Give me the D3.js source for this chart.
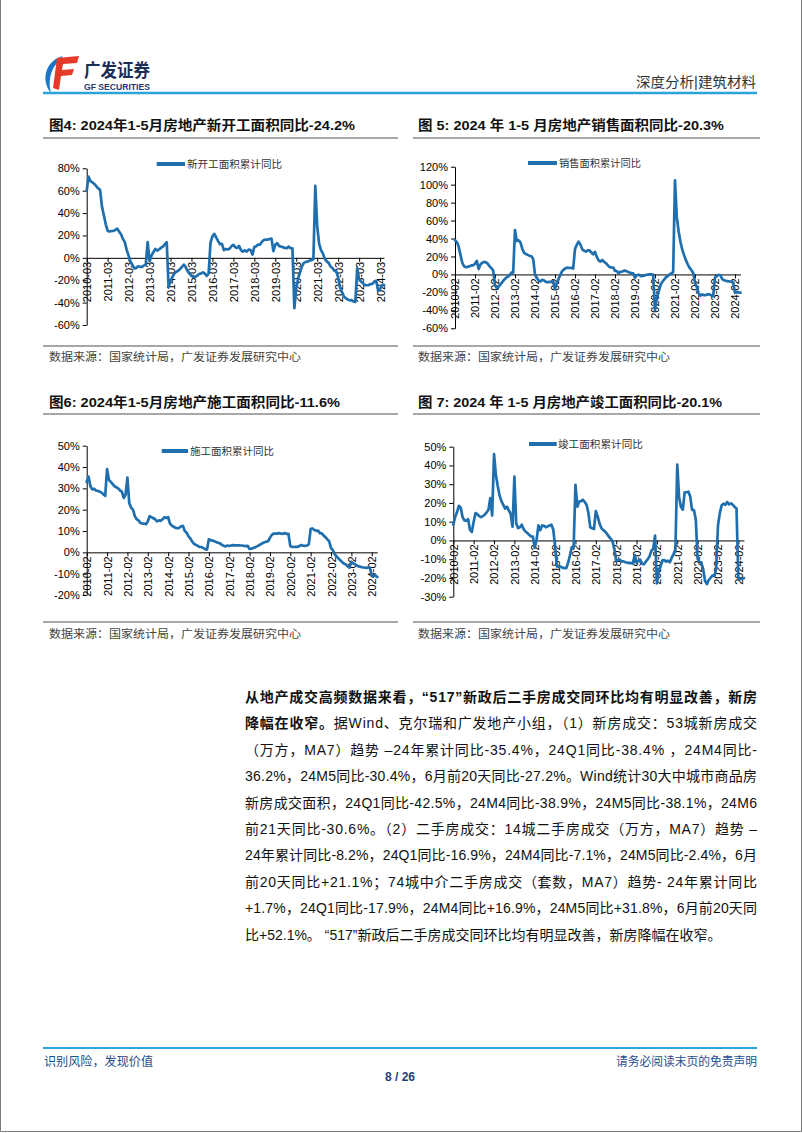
<!DOCTYPE html>
<html><head><meta charset="utf-8">
<script src="https://cdn.jsdelivr.net/npm/d3@7"></script>
<style>html,body{margin:0;padding:0;background:#fff}svg{display:block}</style>
</head><body>
<svg id="page" width="802" height="1133"></svg>
<script>
// ---------------- DATA ----------------
// 图4 新开工面积累计同比 (%), monthly (Feb–Dec), from 2010-03 to 2024-05
const newStartYoY = [
  60, 72.5, 68.5, 67.5, 66, 64, 62, 61, 46, 38,                 // 2010 Mar-Dec
  30, 24, 23.5, 24, 24, 25, 26, 23.5, 21, 17, 14,               // 2011
  7, 2, -3.5, -6.5, -9.5, -9, -7.5, -8, -8, -7, -6,             // 2012
  14, -3, 2, 5, 8, 6.5, 7.5, 9, 10, 12, 14,                      // 2013
  -26, -20.5, -17, -14, -12.5, -11.5, -10, -8, -6, -8.5, -12,    // 2014
  -14, -16, -17, -17, -16, -14.5, -14, -13, -14, -16, -14,       // 2015
  13.7, 19.2, 21.4, 18.0, 14.9, 12.1, 12.5, 6.9, 7.9, 7.6, 8.1,  // 2016
  10.4, 11.6, 9.5, 8.8, 10.6, 6.9, 5.5, 6.8, 5.6, 7.4, 7.0,      // 2017
  2.9, 9.7, 10.4, 11.8, 11.8, 14.4, 15.9, 16.4, 16.3, 16.8, 17.2,// 2018
  6.0, 11.9, 13.1, 10.5, 10.1, 9.5, 8.9, 8.6, 10.0, 8.6, 8.5,    // 2019
  -44.9, -27.2, -18.4, -12.8, -7.6, -4.5, -3.6, -3.4, -2.4, -2.0, -1.2, // 2020
  64.3, 28.2, 12.8, 6.9, 3.8, -0.9, -3.2, -4.5, -7.7, -9.1, -11.4,      // 2021
  -12.2, -17.5, -26.3, -30.6, -34.4, -36.1, -37.2, -38.0, -37.8, -38.9, -39.4, // 2022
  -9.4, -19.2, -21.2, -22.6, -24.3, -24.5, -24.4, -23.4, -23.2, -21.2, -20.4,  // 2023
  -29.7, -27.8, -24.6, -24.2                                     // 2024 Feb-May
];
// 图5 销售面积累计同比 (%), 2010-02 to 2024-05
const salesYoY = [
  38.2, 36, 31, 22, 13, 9, 8, 8.5, 9, 10, 10.1,
  12, 15, 6, 11, 13, 14, 13.5, 12, 9, 7, 4.4,
  -12, -15, -13.5, -11, -8.5, -6, -4, -2.5, -1, 2, 2,
  49.5, 37.1, 38.0, 35.6, 28.7, 24.0, 22.8, 21.8, 20.8, 20.3, 17.3,
  -0.1, -3.8, -6.9, -7.8, -6.0, -6.7, -8.3, -8.6, -8.3, -8.2, -7.6,
  -16.3, -9.2, -4.7, -0.2, 3.9, 5.6, 7.2, 7.5, 7.2, 7.4, 6.5,
  28.2, 33.1, 36.5, 33.2, 27.9, 26.4, 25.5, 26.9, 26.8, 24.3, 22.5,
  25.1, 19.5, 15.7, 14.3, 16.1, 14.0, 12.7, 10.3, 8.2, 7.9, 7.7,
  4.1, 3.6, 1.3, 2.9, 3.3, 4.2, 4.0, 2.9, 2.2, 1.4, 1.3,
  -3.6, -0.9, -0.3, -1.6, -1.8, -1.3, -0.6, -0.1, 0.1, 0.2, -0.1,
  -39.9, -26.3, -19.3, -12.3, -8.4, -5.8, -3.3, -1.8, 0.0, 1.3, 2.6,
  104.9, 63.8, 48.1, 36.3, 27.7, 21.5, 15.9, 11.3, 7.6, 4.8, 1.9,
  -9.6, -13.8, -20.9, -23.6, -22.2, -23.1, -23.0, -22.2, -22.3, -23.3, -24.3,
  -3.6, -1.8, -0.4, -0.9, -5.3, -6.5, -7.1, -7.5, -7.8, -8.0, -8.5,
  -20.5, -19.4, -20.2, -20.3
];
// 图6 施工面积累计同比 (%), 2010-02 to 2024-05
const constructionYoY = [
  33, 35.5, 31, 29.5, 29.8, 29, 28.8, 28.5, 28, 27.2, 26.5,
  39, 34, 33, 32, 31, 30.5, 30, 29, 28.5, 25.5, 27,
  35, 23, 21, 20, 17, 15.5, 15, 13.8, 13.5, 13.5, 13.2,
  14.5, 17, 16.5, 16, 15.5, 14.5, 15, 14.8, 15.5, 16.5, 16.1,
  16.5, 13.5, 12.5, 12, 11.5, 11.3, 11.5, 12.2, 12.4, 10, 9.2,
  7.5, 6.5, 5, 4, 3.5, 3, 2.5, 2.5, 2, 1.5, 1.3,
  6.1, 5.7, 5.5, 5.2, 4.8, 4.5, 4.2, 3.5, 3.1, 2.8, 3.2,
  3.0, 3.2, 3.4, 3.3, 3.3, 3.3, 3.2, 3.2, 3.0, 2.9, 3.0,
  1.6, 1.7, 2.0, 2.4, 2.8, 3.3, 3.8, 4.3, 4.7, 5.0, 5.2,
  6.8, 8.2, 8.8, 8.8, 8.8, 9.0, 8.8, 8.7, 9.0, 8.7, 8.7,
  2.9, 2.6, 2.5, 2.6, 2.6, 3.0, 3.4, 3.1, 3.0, 3.2, 3.7,
  11.0, 11.2, 10.5, 10.1, 10.2, 9.0, 8.9, 7.9, 7.1, 6.1, 5.2,
  2.0, 1.0, -0.9, -1.9, -2.8, -3.7, -4.5, -5.3, -5.7, -6.5, -7.2,
  -4.4, -5.2, -5.6, -6.2, -6.6, -6.8, -7.1, -7.1, -7.3, -7.2, -7.2,
  -11.0, -11.1, -10.8, -11.6
];
// 图7 竣工面积累计同比 (%), 2010-02 to 2024-05
const completionYoY = [
  8.4, 12.5, 15, 18.5, 17.5, 12.5, 10.7, 10.5, 11.4, 5.7, 4.5,
  10, 14.6, 14, 13, 12.4, 13, 13.7, 15, 16.4, 22.6, 13.3,
  46, 35, 29, 24, 21, 19, 17, 18, 16, 14, 7.3,
  34, 9, 6.6, 7, 8.4, 6, 4.8, 4, 3, 2.1, 2.0,
  -4, 0.4, 8, 5.5, 8, 7.8, 7, 7.5, 8, 8.4, 5.9,
  -3.2, -13.9, -14, -14, -14.5, -14.8, -14.8, -12, -8, -3.5, -4,
  29.7, 18, 20.8, 21, 21.7, 20.5, 19, 14.6, 7, 6.5, 6.1,
  15.6, 12.8, 9, 6.6, 5.5, 4.8, 3.5, 2.1, 1, -0.5, -4.4,
  -10.8, -10.5, -10.3, -11.2, -11.2, -11.6, -11.8, -12.1, -12, -12.3, -7.8,
  -11.9, -10.8, -10.3, -12.4, -12.7, -11.3, -10.0, -8.6, -5.5, -4.5, 2.6,
  -22.9, -15.8, -13.7, -10.6, -10.5, -11.3, -10.8, -11.6, -9.2, -7.3, -4.9,
  40.4, 22.9, 17.9, 16.4, 25.7, 25.7, 26.0, 23.4, 16.3, 16.2, 11.2,
  -9.8, -11.5, -11.9, -15.3, -21.5, -23.3, -21.1, -19.9, -18.7, -19.0, -15.0,
  8.0, 14.7, 18.8, 19.6, 19.0, 20.5, 19.2, 19.8, 19.0, 17.9, 17.0,
  -20.2, -20.7, -20.4, -20.1
];
// tick labels
const xLabelsMar = ["2010-03","2011-03","2012-03","2013-03","2014-03","2015-03","2016-03","2017-03","2018-03","2019-03","2020-03","2021-03","2022-03","2023-03","2024-03"];
const xLabelsFeb = ["2010-02","2011-02","2012-02","2013-02","2014-02","2015-02","2016-02","2017-02","2018-02","2019-02","2020-02","2021-02","2022-02","2023-02","2024-02"];
const yTicks1 = [-60,-40,-20,0,20,40,60,80];
const yTicks2 = [-60,-40,-20,0,20,40,60,80,100,120];
const yTicks3 = [-20,-10,0,10,20,30,40,50];
const yTicks4 = [-30,-20,-10,0,10,20,30,40,50];
const titles = ["图4:  2024年1-5月房地产新开工面积同比-24.2%","图 5:  2024 年 1-5 月房地产销售面积同比-20.3%",
                "图6:  2024年1-5月房地产施工面积同比-11.6%","图 7:  2024 年 1-5 月房地产竣工面积同比-20.1%"];
const legendNames = ["新开工面积累计同比","销售面积累计同比","施工面积累计同比","竣工面积累计同比"];
const sourceText = "数据来源：国家统计局，广发证券发展研究中心";

// ---------------- DRAW ----------------
const svg = d3.select("#page");
const BLUE = "#1f6fae";
const LATIN = "'Liberation Sans', Arial, 'Noto Sans CJK SC', sans-serif";
const CJK = "'Liberation Sans', 'Noto Sans CJK SC', sans-serif";

// page border
svg.append("path").attr("d","M0.5,0 V1131.5 H801.5 V0").attr("fill","none").attr("stroke","#7a7a7a").attr("stroke-width",1);

// header logo
const logo = svg.append("g");
logo.append("path").attr("d","M63,56 C46,60 40,80 51,93 C48,82 50,70 58,62 Z").attr("fill","#1b78c8");
logo.append("path").attr("d","M57,58 L79,56 L77,63 L63,64 L62,70 L74,69 L72,75 L61,76 L59,90 L53,88 Z").attr("fill","#e53a2a");
logo.append("text").attr("x",84).attr("y",77).attr("font-family",CJK).attr("font-weight",700)
  .attr("font-size",18).attr("fill","#1b2d55").attr("textLength",66).attr("lengthAdjust","spacingAndGlyphs").text("广发证券");
logo.append("text").attr("x",84).attr("y",90).attr("font-family",LATIN).attr("font-weight",700)
  .attr("font-size",8.5).attr("fill","#1b3a70").attr("textLength",66).attr("lengthAdjust","spacingAndGlyphs").text("GF SECURITIES");
svg.append("text").attr("x",756).attr("y",87).attr("text-anchor","end").attr("font-family",CJK)
  .attr("font-size",14).attr("fill","#333").attr("textLength",120).attr("lengthAdjust","spacingAndGlyphs").text("深度分析|建筑材料");
svg.append("line").attr("x1",43).attr("x2",757).attr("y1",93).attr("y2",93).attr("stroke","#2ba4dc").attr("stroke-width",2.5);

// titles, rules, sources
const panels = [
  {x:43, w:355, tx:49, titleY:130, ruleTop:138, ruleBot:346, srcY:361, tl:306},
  {x:413, w:347, tx:418, titleY:130, ruleTop:138, ruleBot:346, srcY:361, tl:306},
  {x:43, w:355, tx:49, titleY:407, ruleTop:414, ruleBot:622, srcY:638, tl:291},
  {x:413, w:347, tx:418, titleY:407, ruleTop:414, ruleBot:622, srcY:638, tl:304}
];
panels.forEach((p,i)=>{
  svg.append("text").attr("x",p.tx).attr("y",p.titleY).attr("font-family",CJK).attr("font-weight",700)
    .attr("font-size",13.5).attr("fill","#111").attr("textLength",p.tl).attr("lengthAdjust","spacingAndGlyphs").text(titles[i]);
  svg.append("line").attr("x1",p.x).attr("x2",p.x+p.w).attr("y1",p.ruleTop).attr("y2",p.ruleTop).attr("stroke","#8a8a8a").attr("stroke-width",1.5);
  svg.append("line").attr("x1",p.x).attr("x2",p.x+p.w).attr("y1",p.ruleBot).attr("y2",p.ruleBot).attr("stroke","#8a8a8a").attr("stroke-width",1.5);
  svg.append("text").attr("x",p.tx).attr("y",p.srcY).attr("font-family",CJK).attr("font-size",11.5)
    .attr("fill","#444").attr("textLength",252).attr("lengthAdjust","spacingAndGlyphs").text(sourceText);
});

// charts
const charts = [
  {values:newStartYoY, labels:xLabelsMar, x0:86.7, step:1.905, yDom:[-60,80], yR:[325,168.3], yTicks:yTicks1,
   leg:{x1:156.7,x2:185,y:164,tx:187,tl:95}, name:legendNames[0]},
  {values:salesYoY, labels:xLabelsFeb, x0:455, step:1.818, yDom:[-60,120], yR:[328.3,166.7], yTicks:yTicks2,
   leg:{x1:528,x2:557,y:163,tx:559,tl:82}, name:legendNames[1]},
  {values:constructionYoY, labels:xLabelsFeb, x0:86.7, step:1.851, yDom:[-20,50], yR:[595,445.7], yTicks:yTicks3,
   leg:{x1:161.7,x2:188,y:451,tx:190,tl:84}, name:legendNames[2]},
  {values:completionYoY, labels:xLabelsFeb, x0:453.3, step:1.851, yDom:[-30,50], yR:[596.7,446.7], yTicks:yTicks4,
   leg:{x1:529,x2:556.7,y:444,tx:558,tl:85}, name:legendNames[3]}
];

charts.forEach(c=>{
  const g = svg.append("g");
  const n = c.values.length;
  const x = d3.scaleLinear().domain([0,n-1]).range([c.x0, c.x0 + c.step*(n-1)]);
  const y = d3.scaleLinear().domain(c.yDom).range(c.yR);

  const yAxis = d3.axisLeft(y).tickValues(c.yTicks).tickFormat(d=>d+"%").tickSize(4).tickSizeOuter(0).tickPadding(3);
  const ya = g.append("g").attr("transform",`translate(${c.x0},0)`).call(yAxis);
  ya.selectAll("text").attr("font-family",LATIN).attr("font-size",11).attr("fill","#000");
  ya.selectAll("line,path").attr("stroke","#000");

  const xAxis = d3.axisBottom(x).tickValues(d3.range(0, 155, 11)).tickFormat((d,i)=>c.labels[i]).tickSize(4).tickSizeOuter(0);
  const xa = g.append("g").attr("transform",`translate(0,${y(0)})`).call(xAxis);
  xa.selectAll("line,path").attr("stroke","#000");
  xa.selectAll("text").attr("font-family",LATIN).attr("font-size",11).attr("fill","#000")
    .attr("y",0).attr("x",-4).attr("dy","0.36em").attr("transform","rotate(-90)").style("text-anchor","end");

  const line = d3.line().x((d,i)=>x(i)).y(d=>y(d));
  g.append("path").datum(c.values).attr("d",line).attr("fill","none").attr("stroke",BLUE)
    .attr("stroke-width",2.7).attr("stroke-linejoin","round").attr("stroke-linecap","round");

  g.append("line").attr("x1",c.leg.x1).attr("x2",c.leg.x2).attr("y1",c.leg.y).attr("y2",c.leg.y)
    .attr("stroke",BLUE).attr("stroke-width",4);
  g.append("text").attr("x",c.leg.tx).attr("y",c.leg.y+3.5).attr("font-family",CJK).attr("font-size",10)
    .attr("fill","#333").attr("textLength",c.leg.tl).attr("lengthAdjust","spacingAndGlyphs").text(c.name);
});

// paragraph
const paraLines = [
  [["从地产成交高频数据来看，“517”新政后二手房成交同环比均有明显改善，新房",true]],
  [["降幅在收窄。",true],["据Wind、克尔瑞和广发地产小组，（1）新房成交：53城新房成交",false]],
  [["（万方，MA7）趋势 –24年累计同比-35.4%，24Q1同比-38.4% ，24M4同比-",false]],
  [["36.2%，24M5同比-30.4%，6月前20天同比-27.2%。Wind统计30大中城市商品房",false]],
  [["新房成交面积，24Q1同比-42.5%，24M4同比-38.9%，24M5同比-38.1%，24M6",false]],
  [["前21天同比-30.6%。（2）二手房成交：14城二手房成交（万方，MA7）趋势 –",false]],
  [["24年累计同比-8.2%，24Q1同比-16.9%，24M4同比-7.1%，24M5同比-2.4%，6月",false]],
  [["前20天同比+21.1%；74城中介二手房成交（套数，MA7）趋势- 24年累计同比",false]],
  [["+1.7%，24Q1同比-17.9%，24M4同比+16.9%，24M5同比+31.8%，6月前20天同",false]],
  [["比+52.1%。 “517”新政后二手房成交同环比均有明显改善，新房降幅在收窄。",false]]
];
paraLines.forEach((segs,i)=>{
  const t = svg.append("text").attr("x",245).attr("y",702 + i*26.4).attr("font-family",CJK)
    .attr("font-size",14).attr("fill","#111");
  if (i < paraLines.length-1) t.attr("textLength",512).attr("lengthAdjust","spacing");
  segs.forEach(s=>t.append("tspan").attr("font-weight", s[1]?700:400).text(s[0]));
});

// footer
svg.append("line").attr("x1",43).attr("x2",757).attr("y1",1048).attr("y2",1048).attr("stroke","#2ba4dc").attr("stroke-width",2);
svg.append("text").attr("x",44).attr("y",1066).attr("font-family",CJK).attr("font-size",12.5).attr("fill","#1f4e8c")
  .attr("textLength",109).attr("lengthAdjust","spacingAndGlyphs").text("识别风险，发现价值");
svg.append("text").attr("x",757).attr("y",1066).attr("text-anchor","end").attr("font-family",CJK).attr("font-size",12)
  .attr("fill","#1f4e8c").attr("textLength",141).attr("lengthAdjust","spacingAndGlyphs").text("请务必阅读末页的免责声明");
svg.append("text").attr("x",400).attr("y",1081).attr("text-anchor","middle").attr("font-family",LATIN).attr("font-weight",700).attr("font-size",12).attr("fill","#1f3f7a").text("8 / 26");
</script>
</body></html>
